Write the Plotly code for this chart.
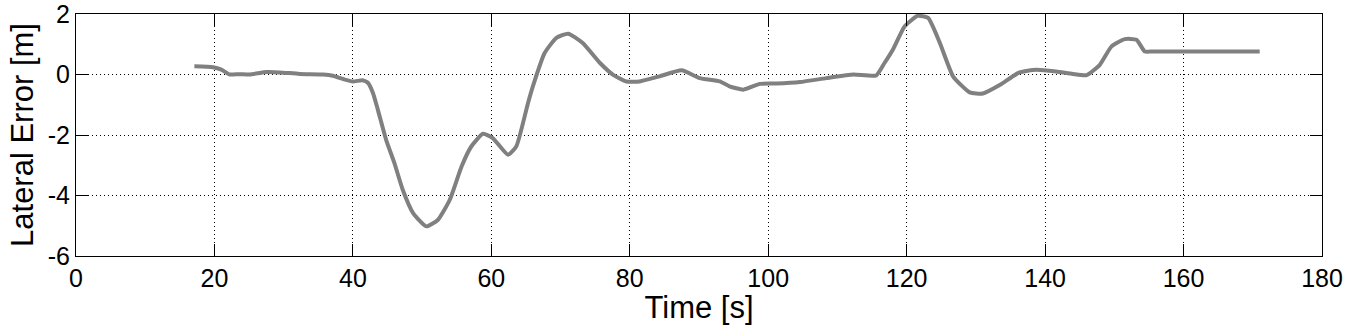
import plotly.graph_objects as go

# lateral error trace
time_s = [17.1, 19.8, 21.0, 22.2, 23.6, 25.1, 27.5, 29.4, 32.3, 35.7, 37.1, 38.6,
          40.0, 41.4, 42.2, 42.9, 43.6, 44.8, 46.0, 47.2, 48.7, 50.6, 52.3, 54.0,
          55.7, 57.1, 58.8, 60.2, 62.4, 63.6, 65.3, 66.0, 67.7, 69.4, 71.1, 73.2,
          75.7, 77.6, 79.5, 81.4, 84.3, 87.5, 90.1, 93.0, 94.4, 96.4, 98.8, 101.2,
          104.6, 108.4, 112.3, 115.6, 116.8, 118.0, 119.7, 121.6, 123.1, 124.8,
          126.7, 129.1, 131.0, 133.5, 136.3, 138.7, 141.6, 144.0, 146.0, 147.9,
          149.6, 151.5, 153.2, 154.4, 155.5, 160.0, 165.0, 171.0]
lat_err = [0.27, 0.24, 0.16, 0.0, 0.01, 0.0, 0.08, 0.07, 0.02, 0.0, -0.04, -0.15,
           -0.23, -0.19, -0.28, -0.61, -1.16, -2.16, -2.93, -3.81, -4.58, -5.02, -4.80, -4.14,
           -3.04, -2.38, -1.96, -2.10, -2.65, -2.38, -0.94, -0.39, 0.71, 1.21, 1.35, 1.04,
           0.38, -0.01, -0.23, -0.23, -0.06, 0.14, -0.12, -0.23, -0.39, -0.50, -0.31, -0.30,
           -0.25, -0.12, 0.0, -0.03, 0.38, 0.82, 1.59, 1.94, 1.87, 1.04,
           -0.06, -0.59, -0.63, -0.34, 0.07, 0.16, 0.10, 0.02, -0.02, 0.32,
           0.93, 1.17, 1.15, 0.76, 0.76, 0.76, 0.76, 0.76]

x_ticks = [0, 20, 40, 60, 80, 100, 120, 140, 160, 180]
y_ticks = [-6, -4, -2, 0, 2]
y_labels = ["-6", "-4", "-2", "0", "2"]

font = "Liberation Sans, Arial, sans-serif"

fig = go.Figure()
fig.add_scatter(x=time_s, y=lat_err, mode="lines", line_shape="spline",
                line=dict(color="#808080", width=4, smoothing=0.5), showlegend=False)

axis_common = dict(showline=True, linecolor="black", linewidth=1, mirror="ticks",
                   ticks="inside", ticklen=12, tickcolor="black",
                   showgrid=True, gridcolor="black", griddash="1px,3px", gridwidth=1,
                   zeroline=False, ticklabeloverflow="allow",
                   tickfont=dict(family=font, size=25, color="black"))

fig.update_xaxes(range=[0, 180], tickvals=x_ticks,
                 title=dict(text="Time [s]", font=dict(family=font, size=31, color="black"),
                            standoff=2),
                 **axis_common)
fig.update_yaxes(range=[-6, 2], tickvals=y_ticks, ticktext=y_labels,
                 title=dict(text="Lateral Error [m]", font=dict(family=font, size=31, color="black"),
                            standoff=4),
                 **axis_common)

fig.update_layout(width=1351, height=325, plot_bgcolor="white", paper_bgcolor="white",
                  margin=dict(l=76, r=29, t=14, b=69, autoexpand=False))

# the page body has an 8px default margin; drop it so the figure sits at the corner
fig.write_html("out.html", config={"displayModeBar": False},
               post_script="document.body.style.margin='0';")
